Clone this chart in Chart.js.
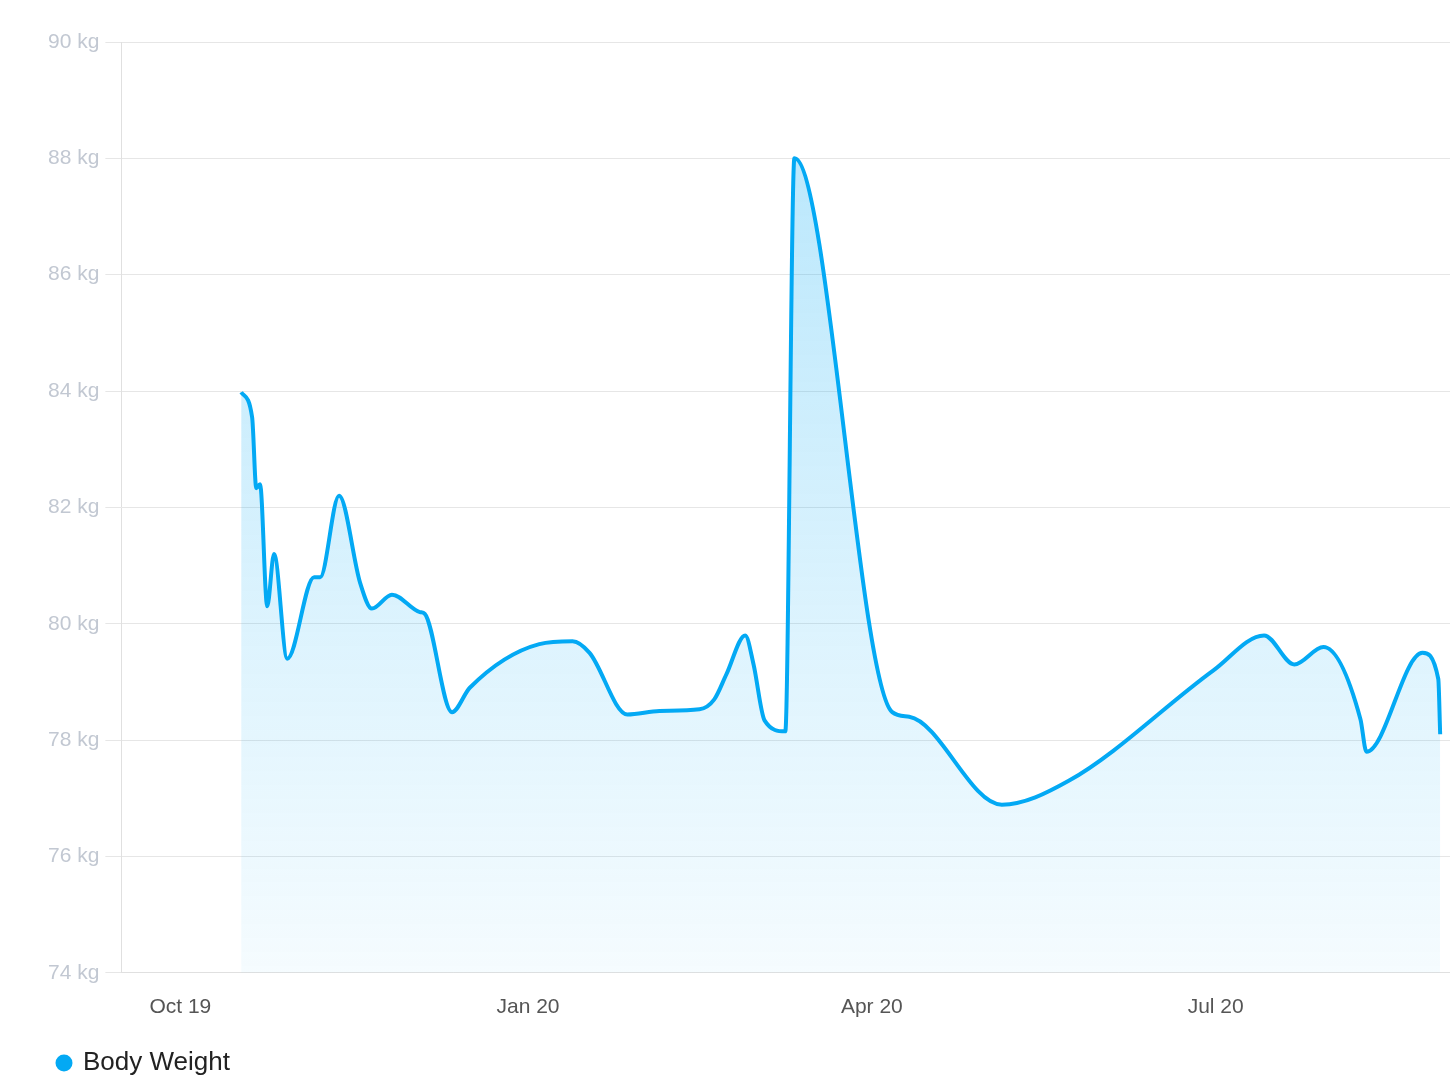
<!DOCTYPE html>
<html><head><meta charset="utf-8">
<script src="https://cdn.jsdelivr.net/npm/chart.js@4/dist/chart.umd.min.js"></script>
<style>html,body{margin:0;padding:0;background:#fff}#w{width:1450px;height:1086px}</style>
</head><body><div id="w"><canvas id="c"></canvas></div>
<script>
// days since 1 Oct 2019
const days = [16.1,19,20.1,21.1,23,24.8,28.3,35.4,37,42,47.6,50.7,56,63.4,64.7,71.9,76.6,95,103.8,108.3,118.3,126.8,137.4,141.3,144.5,149.5,151.7,154.6,160.1,162.5,188.4,192.9,217.4,235.1,273.4,286.8,294.8,302.5,312.3,313.9,328.7,332.9,333.4];
const weights = [83.98,83.55,82.33,82.4,80.3,81.2,79.4,80.8,80.8,82.2,80.7,80.26,80.5,80.2,80.17,78.48,78.9,79.65,79.7,79.5,78.44,78.5,78.53,78.7,79.13,79.8,79.3,78.34,78.15,88,78.48,78.4,76.89,77.3,79.2,79.8,79.3,79.6,78.36,77.8,79.5,79.05,78.1];
const tickDays = [0,92,183,274];
const tickLabels = ['Oct 19','Jan 20','Apr 20','Jul 20'];
const seriesName = 'Body Weight';

const ctx = document.getElementById('c').getContext('2d');
new Chart(ctx,{
  type:'line',
  data:{datasets:[{
    label:seriesName,
    data:days.map((d,i)=>({x:d,y:weights[i]})),
    borderColor:'#03a9f4',borderWidth:4,pointRadius:0,
    cubicInterpolationMode:'monotone',
    fill:'origin',
    backgroundColor:(c)=>{const a=c.chart.chartArea;if(!a)return 'rgba(3,169,244,0.2)';
      const g=c.chart.ctx.createLinearGradient(0,a.top,0,a.bottom);
      g.addColorStop(0,'rgba(3,169,244,0.3)');g.addColorStop(1,'rgba(3,169,244,0.04)');return g;}
  }]},
  options:{
    responsive:true,maintainAspectRatio:false,animation:false,
    layout:{padding:{left:42,right:0,top:42,bottom:0}},
    plugins:{
      legend:{position:'bottom',align:'start',labels:{usePointStyle:true,pointStyle:'circle',boxWidth:12,boxHeight:12,color:'#222',font:{size:26,family:'Liberation Sans'},padding:16,
        generateLabels:(ch)=>[{text:seriesName,fillStyle:'#03a9f4',strokeStyle:'#03a9f4',lineWidth:0,pointStyle:'circle',datasetIndex:0,fontColor:'#222'}]}},
      tooltip:{enabled:false}
    },
    scales:{
      x:{type:'linear',min:-15.6,max:336,
        afterBuildTicks:(s)=>{s.ticks=tickDays.map(v=>({value:v}));},
        ticks:{callback:(v)=>{const i=tickDays.indexOf(v);return i>=0?tickLabels[i]:'';},color:'#555',font:{size:21,family:'Liberation Sans'},maxRotation:0,padding:14},
        grid:{display:false},border:{color:'#e0e0e0'}},
      y:{min:74,max:90,
        ticks:{stepSize:2,callback:(v)=>v+' kg',color:'#c2c8d2',font:{size:21,family:'Liberation Sans'},padding:6},
        grid:{color:'#e6e6e6',tickLength:16},border:{color:'#e0e0e0'}}
    }
  }
});
</script></body></html>
